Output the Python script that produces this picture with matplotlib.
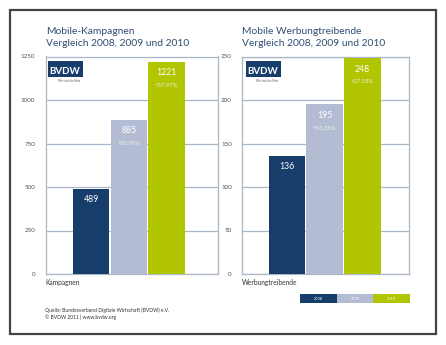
import matplotlib
matplotlib.use("Agg")
import matplotlib.pyplot as plt
from matplotlib.patches import Rectangle

years = ["2008", "2009", "2010"]
kampagnen = [489, 885, 1221]
kampagnen_pct = ["", "+80,98%", "+37,97%"]
werbung = [136, 195, 248]
werbung_pct = ["", "+43,38%", "+27,18%"]
colors = ["#173d6b", "#b3bcd2", "#b1c500"]
title_color = "#2f4f73"
grid_color = "#aab7c6"
FONT = "Lato"

W, H = 446, 345
fig = plt.figure(figsize=(W / 100, H / 100), dpi=100)
fig.patch.set_facecolor("white")

def fx(px):
    return px / W

def fy(py):
    return 1 - py / H

# outer frame
fig.add_artist(Rectangle((fx(10), fy(334)), fx(426), 324 / H, fill=False,
                         edgecolor="#444444", linewidth=1.6, transform=fig.transFigure))

def panel(left_px, right_px, xlo, xhi, vals, pcts, ymax, yticks, title, xlabel):
    ax = fig.add_axes([fx(left_px), fy(274), fx(right_px - left_px), (274 - 56.5) / H])
    ax.set_xlim(xlo, xhi)
    ax.set_ylim(0, ymax)
    ax.bar(range(len(vals)), vals, width=0.97, color=colors, zorder=3)
    ax.set_yticks(yticks)
    ax.set_yticklabels([str(t) for t in yticks], fontsize=4.5, color="#555555", family=FONT)
    ax.tick_params(axis="y", length=0, pad=7.5)
    ax.set_xticks([])
    ax.grid(axis="y", color=grid_color, linewidth=0.9, zorder=1)
    for s in ax.spines.values():
        s.set_color(grid_color)
        s.set_linewidth(0.9)
    for i, (v, p) in enumerate(zip(vals, pcts)):
        ax.annotate(str(v), (i, v), xytext=(0, -7.8), textcoords="offset points",
                    ha="center", va="center", color="white", fontsize=6.3, family=FONT, zorder=5)
        if p:
            ax.annotate(p, (i, v), xytext=(0, -16.5), textcoords="offset points",
                        ha="center", va="center", color="#eef2e0", fontsize=4.3, family=FONT, zorder=5)
    fig.text(fx(left_px), fy(31), title.split("\n")[0], fontsize=7.4, color=title_color,
             family=FONT, va="center", ha="left")
    fig.text(fx(left_px), fy(43.5), title.split("\n")[1], fontsize=7.4, color=title_color,
             family=FONT, va="center", ha="left")
    fig.text(fx(left_px), fy(283), xlabel, fontsize=4.8, color="#333333", family=FONT,
             va="center", ha="left")
    return ax

ax1 = panel(45.7, 218, -1.207, 3.364, kampagnen, kampagnen_pct, 1250,
            [0, 250, 500, 750, 1000, 1250],
            "Mobile-Kampagnen\nVergleich 2008, 2009 und 2010", "Kampagnen")
ax2 = panel(242.3, 409, -1.18, 3.24, werbung, werbung_pct, 250,
            [0, 50, 100, 150, 200, 250],
            "Mobile Werbungtreibende\nVergleich 2008, 2009 und 2010", "Werbungtreibende")

# BVDW logos
for lx in (48, 245.7):
    fig.add_artist(Rectangle((fx(lx), fy(77)), fx(35), 16 / H, facecolor="#173d6b",
                             edgecolor="none", transform=fig.transFigure, zorder=6))
    fig.text(fx(lx + 1.5), fy(71), "BVDW", fontsize=7, color="white", family=FONT,
             weight="bold", va="center", ha="left", zorder=7)
    fig.text(fx(lx + 10), fy(81.5), "Wir sind das Netz", fontsize=2, color="#555555",
             family=FONT, va="center", ha="left")

# legend boxes
edges = [300, 337, 373, 410]
for i, y in enumerate(years):
    fig.add_artist(Rectangle((fx(edges[i]), fy(303)), fx(edges[i + 1] - edges[i]), 9 / H,
                             facecolor=colors[i], edgecolor="none", transform=fig.transFigure))
    fig.text(fx((edges[i] + edges[i + 1]) / 2), fy(298.5), y, fontsize=2.8, color="white",
             family=FONT, va="center", ha="center")

fig.text(fx(45), fy(310.5), "Quelle: Bundesverband Digitale Wirtschaft (BVDW) e.V.",
         fontsize=3.6, color="#333333", family=FONT, va="center", ha="left")
fig.text(fx(45), fy(317.5), "© BVDW 2011 | www.bvdw.org",
         fontsize=3.6, color="#333333", family=FONT, va="center", ha="left")

fig.savefig("out.png", dpi=100, facecolor="white")
